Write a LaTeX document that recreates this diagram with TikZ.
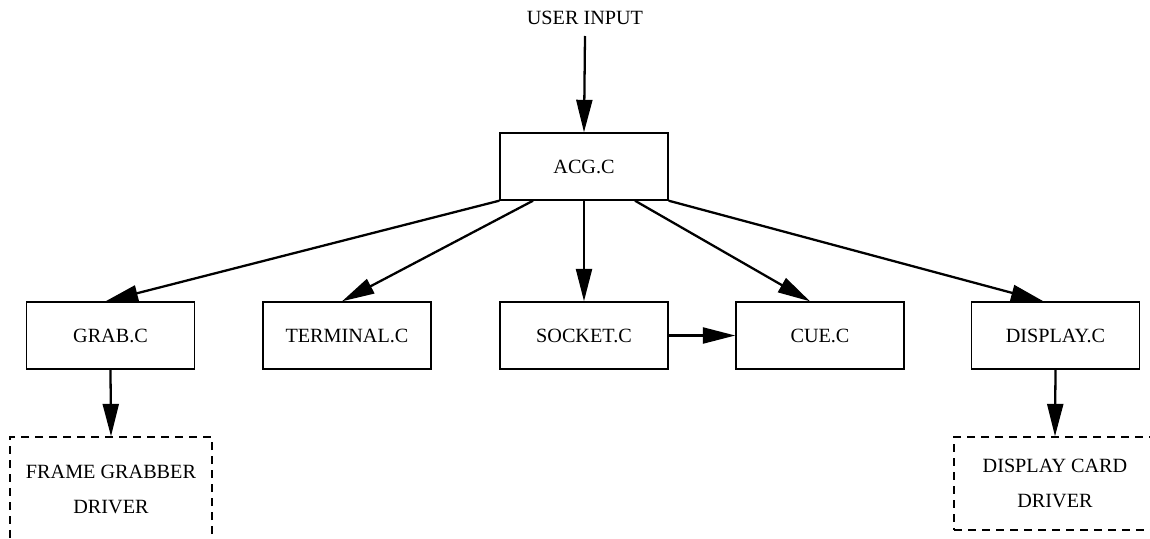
\documentclass[tikz,border=0pt]{standalone}
\usepackage{fontspec}
\setmainfont{Liberation Serif}
\usetikzlibrary{arrows.meta}

\begin{document}
\begin{tikzpicture}[x=0.02cm,y=-0.02cm,>={Triangle[length=6.5mm,width=3.2mm]},font=\fontsize{11.5}{14}\selectfont,
  modbox/.style={draw,line width=0.8pt,minimum width=3.36cm,minimum height=1.34cm,inner sep=0pt},
  drvbox/.style={draw,dash pattern=on 1.6mm off 1.2mm,line width=0.8pt,minimum width=4.04cm,inner sep=0pt,align=center,font=\fontsize{11.5}{20}\selectfont},
  flow/.style={->,line width=1.3pt}]
\useasboundingbox (0,0) rectangle (1150,538);
\clip (0,0) rectangle (1150,538);
\node (user) at (585,18) {USER INPUT};
\node[modbox] (acg) at (584,166.5) {ACG.C};
\foreach \n/\x/\l in {grab/110.5/GRAB.C,terminal/347/TERMINAL.C,socket/584/SOCKET.C,cue/820/CUE.C,display/1055.5/DISPLAY.C}
  {\node[modbox] (\n) at (\x,335.5) {\l};}
\node[drvbox,minimum height=2.1cm] (fgdrv) at (111,489.5) {FRAME GRABBER\\DRIVER};
\node[drvbox,minimum height=1.86cm] (dcdrv) at (1055,483.5) {DISPLAY CARD\\DRIVER};
% call structure
\draw[flow] ([yshift=-1mm]user.south) -- (acg.north);
\draw[flow] (acg.south west) -- ([xshift=-1mm]grab.north);
\draw[flow] ([xshift=-1.02cm]acg.south) -- ([xshift=-1mm]terminal.north);
\draw[flow] (acg.south) -- (socket.north);
\draw[flow] ([xshift=1.02cm]acg.south) -- ([xshift=-2mm]cue.north);
\draw[flow] (acg.south east) -- ([xshift=-2.4mm]display.north);
\draw[flow] (socket.east) -- (cue.west);
\draw[flow] (grab.south) -- (fgdrv.north);
\draw[flow] (display.south) -- (dcdrv.north);
\end{tikzpicture}
\end{document}
